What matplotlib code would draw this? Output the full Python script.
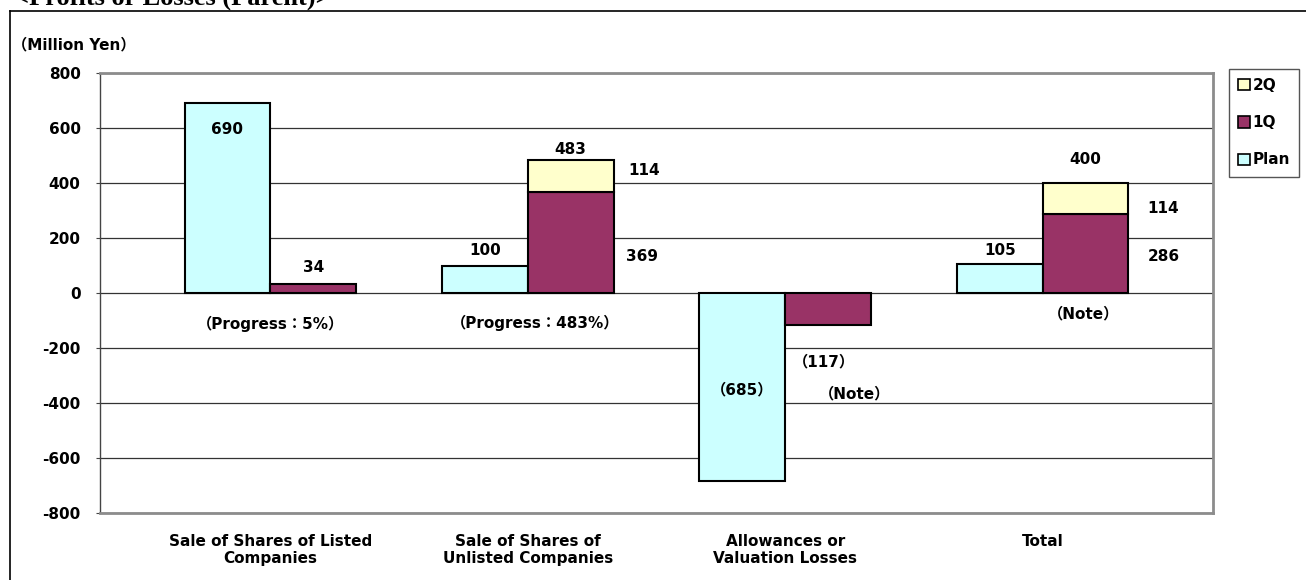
import numpy as np
import matplotlib
matplotlib.use("Agg")
import matplotlib.pyplot as plt
from matplotlib.patches import Patch
from matplotlib.lines import Line2D

plt.rcParams['font.family'] = ['DejaVu Sans', 'Noto Sans CJK JP']
plt.rcParams['font.weight'] = 'bold'
plt.rcParams['axes.unicode_minus'] = False

categories = ["Sale of Shares of Listed\nCompanies", "Sale of Shares of\nUnlisted Companies",
              "Allowances or\nValuation Losses", "Total"]
plan = np.array([690, 100, -685, 105])
q1 = np.array([34, 369, -117, 286])
q2 = np.array([0, 114, 0, 114])
yticks = [-800, -600, -400, -200, 0, 200, 400, 600, 800]

col_plan = '#CCFFFF'
col_q1 = '#993366'
col_q2 = '#FFFFCC'

W, H = 1306, 580
fig = plt.figure(figsize=(W / 100, H / 100), dpi=100)
ax = fig.add_axes([100 / W, 1 - 513 / H, (1213 - 100) / W, (513 - 73) / H])

x = np.arange(len(categories))
w = 1 / 3
fs = 11

ax.bar(x - w / 2, plan, w, color=col_plan, edgecolor='black', lw=1.5, zorder=3)
ax.bar(x + w / 2, q1, w, color=col_q1, edgecolor='black', lw=1.5, zorder=3)
has_q2 = q2 != 0
ax.bar(x[has_q2] + w / 2, q2[has_q2], w, bottom=q1[has_q2], color=col_q2,
       edgecolor='black', lw=1.5, zorder=3)

ax.set_xlim(-0.662, 3.662)
ax.set_ylim(-800, 800)
ax.set_yticks(yticks)
ax.set_yticklabels([str(v) for v in yticks], fontsize=fs, fontweight='bold')
ax.set_xticks(x)
ax.set_xticklabels(categories, fontsize=fs, fontweight='bold', linespacing=1.2)
ax.tick_params(axis='x', length=0, pad=15)
ax.tick_params(axis='y', length=3, pad=11, color='#444444')
ax.yaxis.grid(True, color='#333333', lw=0.9, zorder=0)
ax.set_axisbelow(True)

for side in ['top', 'right', 'bottom']:
    ax.spines[side].set_color('#8c8c8c')
    ax.spines[side].set_linewidth(2)
ax.spines['left'].set_color('#444444')
ax.spines['left'].set_linewidth(1)

# value labels
tkw = dict(ha='center', va='center', fontsize=fs, fontweight='bold', zorder=5)
ax.text(0 - w / 2, plan[0] - 97, str(plan[0]), **tkw)
ax.text(0 + w / 2, q1[0] + 57, str(q1[0]), **tkw)
ax.text(0, -113, "（Progress：5%）", **tkw)

ax.text(1 - w / 2, plan[1] + 56, str(plan[1]), **tkw)
ax.text(1 + w / 2, q1[1] + q2[1] + 37, str(q1[1] + q2[1]), **tkw)
ax.text(1.45, 447, str(q2[1]), **tkw)
ax.text(1.445, 131, str(q1[1]), **tkw)
ax.text(1.03, -109, "（Progress：483%）", **tkw)

ax.text(2 - w / 2, plan[2] / 2 - 10, "（%d）" % -plan[2], **tkw)
ax.text(2.15, -251, "（%d）" % -q1[2], **tkw)
ax.text(2.27, -367, "（Note）", **tkw)

ax.text(3 - w / 2, plan[3] + 51, str(plan[3]), **tkw)
ax.text(3 + w / 2, q1[3] + q2[3] + 87, str(q1[3] + q2[3]), **tkw)
ax.text(3.47, 309, str(q2[3]), **tkw)
ax.text(3.47, 131, str(q1[3]), **tkw)
ax.text(3.16, -76, "（Note）", **tkw)

# unit label and title
fig.text(12 / W, 1 - 45 / H, "（Million Yen）", ha='left', va='center', fontsize=fs, fontweight='bold')
fig.text(14 / W, 1 - 5 / H, "<Profits or Losses (Parent)>", ha='left', va='baseline',
         fontsize=19, fontweight='bold', family='Liberation Serif')

# outer frame
fig.add_artist(Line2D([10 / W, 10 / W], [0, 1 - 11 / H], color='black', lw=1.2))
fig.add_artist(Line2D([10 / W, 1], [1 - 11 / H, 1 - 11 / H], color='black', lw=1.2))

# legend
handles = [Patch(facecolor=col_q2, edgecolor='black', lw=1.2),
           Patch(facecolor=col_q1, edgecolor='black', lw=1.2),
           Patch(facecolor=col_plan, edgecolor='black', lw=1.2)]
leg = fig.legend(handles, ["2Q", "1Q", "Plan"], loc='upper left',
                 bbox_to_anchor=(1229 / W, 1 - 69 / H), bbox_transform=fig.transFigure,
                 borderaxespad=0, prop={'weight': 'bold', 'size': fs},
                 handlelength=0.75, handleheight=0.75, handletextpad=0.2,
                 labelspacing=1.45, borderpad=0.6, fancybox=False, framealpha=1)
leg.get_frame().set_edgecolor('#555555')
leg.get_frame().set_linewidth(1)

fig.savefig("out.png", dpi=100)
